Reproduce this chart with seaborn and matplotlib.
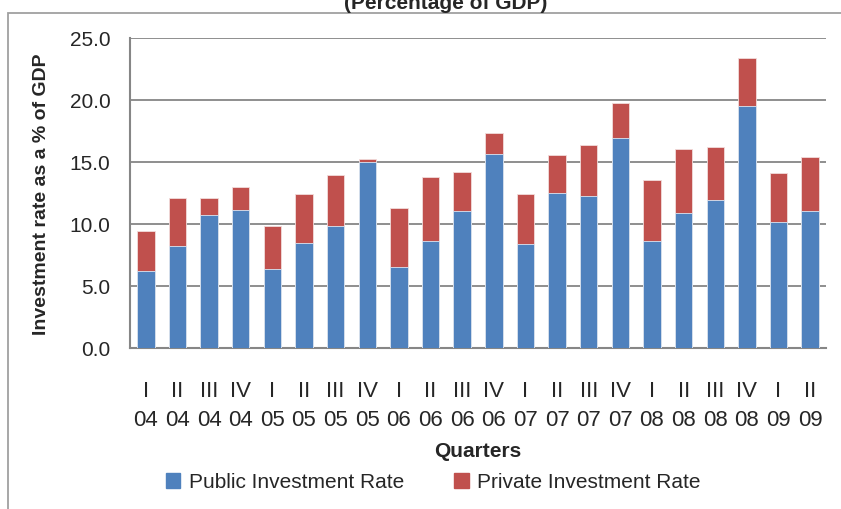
import matplotlib
matplotlib.use("Agg")
import matplotlib.pyplot as plt
import matplotlib.patches as mpatches
import numpy as np
import pandas as pd
import seaborn as sns

# Quarters from 2004 Q1 to 2009 Q2
QUARTERS = ["I", "II", "III", "IV"] * 5 + ["I", "II"]
YEARS = ["04"] * 4 + ["05"] * 4 + ["06"] * 4 + ["07"] * 4 + ["08"] * 4 + ["09"] * 2

# Values (percentage of GDP)
PUBLIC_RATE = [6.2, 8.2, 10.7, 11.1, 6.35, 8.45, 9.85, 14.95, 6.5, 8.6, 11.0,
               15.6, 8.35, 12.5, 12.25, 16.9, 8.6, 10.85, 11.95, 19.45, 10.15, 11.0]
PRIVATE_RATE = [3.2, 3.9, 1.4, 1.85, 3.5, 3.95, 4.1, 0.25, 4.8, 5.2, 3.2,
                1.7, 4.05, 3.0, 4.1, 2.8, 4.95, 5.2, 4.25, 3.9, 3.95, 4.4]

BLUE = "#4F81BD"
RED = "#C0504D"
GRID = "#868686"


def main() -> None:
    sns.set_style("white")
    plt.rcParams["font.family"] = ["Liberation Sans", "DejaVu Sans"]

    labels = [f"{q}\n{y}" for q, y in zip(QUARTERS, YEARS)]
    df = pd.DataFrame({
        "quarter": labels,
        "public": PUBLIC_RATE,
        "private": PRIVATE_RATE,
    })
    df["total"] = df["public"] + df["private"]

    fig = plt.figure(figsize=(8.41, 5.10), dpi=100)
    ax = fig.add_axes([130 / 841, 1 - 349 / 510, 696 / 841, 310.5 / 510])

    # Stack by drawing the total in red first, then the public part on top of it.
    sns.barplot(data=df, x="quarter", y="total", color=RED, width=0.55,
                saturation=1, edgecolor="#f2dcdb", linewidth=0.6, ax=ax, zorder=3)
    sns.barplot(data=df, x="quarter", y="public", color=BLUE, width=0.55,
                saturation=1, edgecolor="#dce6f2", linewidth=0.6, ax=ax, zorder=3)

    ax.set_ylim(0, 25)
    ax.set_xlim(-0.5, len(df) - 0.5)
    ax.set_yticks(np.arange(0, 25.1, 5))
    ax.set_yticklabels([f"{v:.1f}" for v in np.arange(0, 25.1, 5)], fontsize=15)
    ax.set_xticks(range(len(df)))
    ax.set_xticklabels(labels, fontsize=16, linespacing=1.5)
    ax.tick_params(axis="x", length=0, pad=23)
    ax.tick_params(axis="y", length=6, color=GRID, width=1.3, pad=8, direction="out")

    ax.yaxis.grid(True, color=GRID, linewidth=1.3, zorder=0)
    ax.set_axisbelow(True)
    for side in ["top", "right"]:
        ax.spines[side].set_visible(False)
    for side in ["left", "bottom"]:
        ax.spines[side].set_color(GRID)
        ax.spines[side].set_linewidth(1.5)

    ax.set_xlabel("Quarters", fontsize=15, fontweight="bold", labelpad=8)
    ax.set_ylabel("Investment rate as a % of GDP", fontsize=14, fontweight="bold", labelpad=14)

    # Title line that is cut at the top of the picture, as in the source
    fig.text(0.53, 1 - 9 / 510, "(Percentage of GDP)", ha="center", va="baseline",
             fontsize=15, fontweight="bold")

    # Chart area frame, partly outside the picture
    frame = mpatches.Rectangle((8 / 841, -0.1), 1.1, 1 - 14 / 510 + 0.1,
                               transform=fig.transFigure, fill=False,
                               edgecolor="#a0a0a0", linewidth=1.3)
    fig.add_artist(frame)

    handles = [mpatches.Patch(color=BLUE, label="Public Investment Rate"),
               mpatches.Patch(color=RED, label="Private Investment Rate")]
    fig.legend(handles=handles, loc="center", bbox_to_anchor=(0.515, 1 - 483 / 510),
               ncol=2, frameon=False, fontsize=15, handlelength=0.7,
               handleheight=0.7, handletextpad=0.4, columnspacing=2.4)

    fig.savefig("out.png", dpi=100)
    plt.close(fig)


if __name__ == "__main__":
    main()
